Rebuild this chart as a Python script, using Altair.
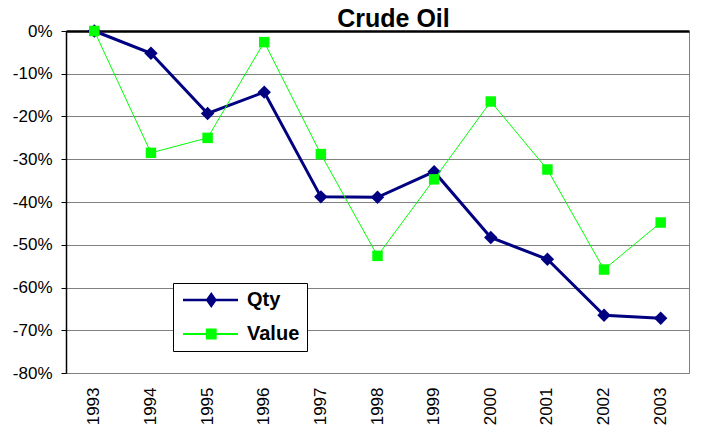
import altair as alt
import pandas as pd

# ---- data (fractions of the 1993 level) ----
years = ["1993", "1994", "1995", "1996", "1997", "1998",
         "1999", "2000", "2001", "2002", "2003"]
qty_change = [0.0, -0.052, -0.193, -0.143, -0.388, -0.389, -0.329, -0.483, -0.534, -0.665, -0.672]
value_change = [0.0, -0.285, -0.250, -0.026, -0.288, -0.526, -0.347, -0.165, -0.324, -0.558, -0.448]
series_names = ["Qty", "Value"]
series_colors = ["#000080", "#00FF00"]
y_tick_values = [0.0, -0.1, -0.2, -0.3, -0.4, -0.5, -0.6, -0.7, -0.8]
chart_title = "Crude Oil"

rows = []
for name, vals in zip(series_names, [qty_change, value_change]):
    for yr, v in zip(years, vals):
        rows.append({"year": yr, "series": name, "change": v})
df = pd.DataFrame(rows)

FONT = "Liberation Sans"

# legend symbols: line segment + marker (custom SVG paths, unit = sqrt(size)/2)
QTY_PATH = "M-1,-0.19L6.857,-0.19L6.857,0.19L-1,0.19Z M3.04,-1.14L3.84,0L3.04,1.14L2.24,0Z"
VAL_PATH = "M-1,-0.15L6.857,-0.15L6.857,0.15L-1,0.15Z M2.27,-0.77L3.81,-0.77L3.81,0.77L2.27,0.77Z"

x_scale = alt.Scale(type="band", domain=years, paddingInner=0, paddingOuter=0)
y_scale = alt.Scale(domain=[-0.8, 0], nice=False, zero=False)
color_scale = alt.Scale(domain=series_names, range=series_colors)

x_bottom = alt.Axis(orient="bottom", title=None, labelAngle=270, labelFont=FONT,
                    labelFontSize=17, labelColor="black", labelPadding=14,
                    ticks=False, domain=False, grid=False,
                    labelOverlap=False)
y_axis = alt.Axis(orient="left", title=None, values=y_tick_values,
                  labelExpr="replace(datum.label, '\u2212', '-')",
                  format=".0%", labelFont=FONT, labelFontSize=17,
                  labelColor="black", labelPadding=9, ticks=True, tickSize=5,
                  tickColor="black",
                  domain=True, domainColor="black", domainWidth=1.5,
                  grid=True,
                  gridColor={"condition": {"test": "datum.value === 0", "value": "black"},
                             "value": "#808080"},
                  gridWidth={"condition": {"test": "datum.value === 0", "value": 2.5},
                             "value": 1})

legend = alt.Legend(title=None, orient="none", legendX=107, legendY=252, padding=7,
                    strokeColor="black", fillColor="white", labelFont=FONT,
                    labelFontSize=20, labelFontWeight="bold", labelColor="black",
                    labelOffset=47, rowPadding=14, symbolSize=196,
                    symbolStrokeWidth=0, symbolOpacity=1,
                    symbolType=alt.ExprRef(
                        expr=f"datum.value === 'Qty' ? '{QTY_PATH}' : '{VAL_PATH}'"))

base = alt.Chart(df).encode(
    x=alt.X("year:N", scale=x_scale, axis=x_bottom),
    y=alt.Y("change:Q", scale=y_scale, axis=y_axis),
)

qty_line = base.transform_filter(alt.datum.series == "Qty").mark_line(
    color=series_colors[0], strokeWidth=3)
qty_pts = base.transform_filter(alt.datum.series == "Qty").mark_point(
    filled=True, opacity=1, shape="diamond", size=180).encode(
    color=alt.Color("series:N", scale=color_scale, legend=legend))
value_line = base.transform_filter(alt.datum.series == "Value").mark_line(
    color=series_colors[1], strokeWidth=1)
value_pts = base.transform_filter(alt.datum.series == "Value").mark_point(
    filled=True, opacity=1, shape="square", size=110).encode(
    color=alt.Color("series:N", scale=color_scale, legend=None))

title = alt.TitleParams(chart_title, font=FONT, fontSize=25, fontWeight="bold",
                        color="black", anchor="middle", dx=16, offset=2, dy=12)

chart = alt.layer(qty_line, qty_pts, value_line, value_pts).properties(
    width=623, height=342, title=title, background="white",
    padding={"left": 58, "top": 23, "right": 5, "bottom": 54},
    autosize=alt.AutoSizeParams(type="none"),
).configure_view(stroke="#808080", strokeWidth=1)

chart.save("out.html", embed_options={"renderer": "svg", "actions": False})
